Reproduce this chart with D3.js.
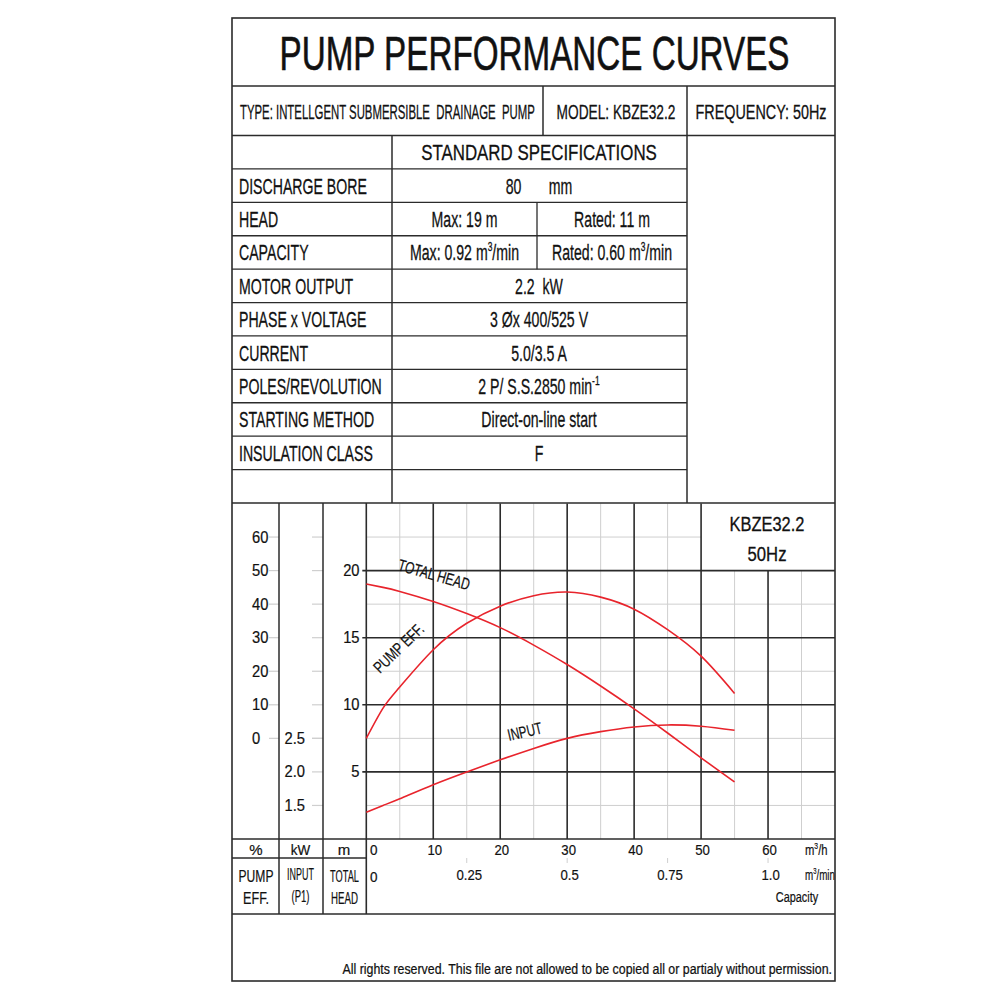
<!DOCTYPE html>
<meta charset="utf-8">
<script src="https://d3js.org/d3.v7.min.js"></script>
<style>
  body { margin: 0; background: #fff; }
  text { font-family: "Liberation Sans Narrow", "Arial Narrow", "Liberation Sans", Arial, sans-serif; fill: #111; white-space: pre; }
</style>
<div id="chart"></div>
<script>
// ---- data ----
const flow      = [0, 2.5, 5, 10, 15, 20, 25, 30, 35, 40, 45, 50, 55];          // m3/h
const totalHead = [19.0, 18.75, 18.45, 17.7, 16.8, 15.75, 14.45, 13.0, 11.4, 9.7, 7.9, 6.05, 4.25]; // m
const pumpEff   = [0, 9.0, 15.3, 26.4, 34.3, 39.4, 42.5, 43.6, 42.1, 38.5, 32.4, 24.5, 13.4];   // %
const inputKw   = [1.40, 1.50, 1.60, 1.81, 2.0, 2.18, 2.35, 2.50, 2.60, 2.67, 2.70, 2.68, 2.62]; // kW

const flowTicks = [0, 10, 20, 30, 40, 50, 60];
const minTicks  = [0.25, 0.5, 0.75, 1.0];
const minLabels = ["0.25", "0.5", "0.75", "1.0"];
const effTicks  = [0, 10, 20, 30, 40, 50, 60];
const kwTicks   = [2.5, 2.0, 1.5];
const headTicks = [5, 10, 15, 20];

const title = "PUMP PERFORMANCE CURVES";
const infoRow = ["TYPE: INTELLGENT SUBMERSIBLE  DRAINAGE  PUMP", "MODEL: KBZE32.2", "FREQUENCY: 50Hz"];
const specHeader = "STANDARD SPECIFICATIONS";
const specLabels = ["DISCHARGE BORE", "HEAD", "CAPACITY", "MOTOR OUTPUT", "PHASE x VOLTAGE",
                    "CURRENT", "POLES/REVOLUTION", "STARTING METHOD", "INSULATION CLASS", ""];
const specValues = [["80       mm"], ["Max: 19 m", "Rated: 11 m"], ["Max: 0.92 m{3}/min", "Rated: 0.60 m{3}/min"],
                    ["2.2  kW"], ["3 Øx 400/525 V"], ["5.0/3.5 A"], ["2 P/ S.S.2850 min{-1}"],
                    ["Direct-on-line start"], ["F"], [""]];
const model = "KBZE32.2", freq = "50Hz";
const footer = "All rights reserved. This file are not allowed to be copied all or partialy without permission.";

// ---- layout ----
const L = 232, R = 835, T = 18, B = 981;
const titleBot = 86, infoBot = 135.5, specBot = 503, nRows = 11;
const colLab = 392, colVal = 687, colSplit = 537;
const c1 = 279, c2 = 323, c3 = 366.3;
const plotTop = 503.5, plotBot = 839, unitBot = 858, nameBot = 914;
const ink = "#2b2b2b", red = "#e8242c", grid = "#cfcfcf";

const svg = d3.select("#chart").append("svg")
    .attr("width", 1000).attr("height", 1000);

// scales
const x = d3.scaleLinear().domain([0, 70]).range([c3, R]);
const yH = d3.scaleLinear().domain([0, 25]).range([plotBot, plotTop]);
const yE = d3.scaleLinear().domain([0, 60]).range([yH(7.5), yH(22.5)]);
const yK = d3.scaleLinear().domain([1.5, 2.5]).range([yH(2.5), yH(7.5)]);

function line(x1, y1, x2, y2, color, w) {
    svg.append("line").attr("x1", x1).attr("y1", y1).attr("x2", x2).attr("y2", y2)
        .attr("stroke", color || ink).attr("stroke-width", w || 1.5);
}

// text helper: "{..}" parts become superscripts; w squeezes the text to a width
function put(str, px, py, size, o) {
    o = o || {};
    const t = svg.append("text").attr("font-size", size)
        .attr("text-anchor", o.anchor || "start");
    let raised = false;
    str.split(/\{([^}]*)\}/).forEach(function (s, i) {
        if (!s) return;
        const sp = t.append("tspan").text(s);
        if (i % 2) {
            sp.attr("dy", -size * 0.4).attr("font-size", size * 0.6);
            raised = true;
        } else if (raised) {
            sp.attr("dy", size * 0.4);
            raised = false;
        }
    });
    let sx = o.sx || 1;
    if (o.w) sx = o.w / t.node().getBBox().width;
    t.attr("transform", `translate(${px},${py}) rotate(${o.rot || 0}) scale(${sx},1)`);
    if (o.bold) t.attr("stroke", "#111").attr("stroke-width", o.bold);
    return sx;
}

// ---- header tables ----
put(title, (L + R) / 2 + 1, 70, 48, { anchor: "middle", w: 510, bold: 0.6 });
line(L, titleBot, R, titleBot);
put(infoRow[0], 240, 119, 21, { w: 295, bold: 0.3 });
put(infoRow[1], 616, 119, 21, { anchor: "middle", w: 119, bold: 0.3 });
put(infoRow[2], 761, 119, 21, { anchor: "middle", w: 131, bold: 0.3 });
line(543, titleBot, 543, infoBot);
line(colVal, titleBot, colVal, specBot);
line(L, infoBot, R, infoBot);

const rowH = (specBot - infoBot) / nRows;
const rowMid = i => infoBot + rowH * (i + 0.5);
put(specHeader, 539, rowMid(0) + 8, 22.5, { anchor: "middle", w: 236, bold: 0.3 });
line(colLab, infoBot, colLab, specBot);
const sq = put(specLabels[0], 239, rowMid(1) + 8, 22.5, { w: 128, bold: 0.3 });
specLabels.forEach(function (lab, i) {
    const yb = rowMid(i + 1) + 8;
    line(L, infoBot + rowH * (i + 1), colVal, infoBot + rowH * (i + 1), ink, 1.3);
    if (i > 0 && lab) put(lab, 239, yb, 22.5, { sx: sq, bold: 0.3 });
    const vals = specValues[i];
    if (vals.length === 2) {
        put(vals[0], (colLab + colSplit) / 2, yb, 22.5, { anchor: "middle", sx: sq, bold: 0.3 });
        put(vals[1], (colSplit + colVal) / 2, yb, 22.5, { anchor: "middle", sx: sq, bold: 0.3 });
    } else if (vals[0]) {
        put(vals[0], 539, yb, 22.5, { anchor: "middle", sx: sq, bold: 0.3 });
    }
});
line(colSplit, infoBot + rowH * 2, colSplit, infoBot + rowH * 4, ink, 1.3);

// ---- chart grid ----
const g = svg.append("g");
d3.range(5, 70, 10).forEach(function (v) {
    g.append("line").attr("x1", x(v)).attr("x2", x(v))
        .attr("y1", v > 50 ? yH(20) : plotTop).attr("y2", plotBot)
        .attr("stroke", grid).attr("stroke-width", 1);
});
[2.5, 7.5, 12.5, 17.5, 22.5].forEach(function (v) {
    g.append("line").attr("x1", x(0)).attr("x2", v > 20 ? x(50) : R)
        .attr("y1", yH(v)).attr("y2", yH(v))
        .attr("stroke", grid).attr("stroke-width", 1);
});
// short tick lines in the left columns
effTicks.forEach(function (v) {
    g.append("line").attr("x1", 269).attr("x2", c1).attr("y1", yE(v)).attr("y2", yE(v))
        .attr("stroke", grid).attr("stroke-width", 1.2);
    g.append("line").attr("x1", 312).attr("x2", c2).attr("y1", yE(v)).attr("y2", yE(v))
        .attr("stroke", grid).attr("stroke-width", 1.2);
});
kwTicks.forEach(function (v) {
    g.append("line").attr("x1", 312).attr("x2", c2).attr("y1", yK(v)).attr("y2", yK(v))
        .attr("stroke", grid).attr("stroke-width", 1.2);
});
minTicks.forEach(function (v) {
    g.append("line").attr("x1", x(v * 60)).attr("x2", x(v * 60)).attr("y1", unitBot).attr("y2", unitBot + 5)
        .attr("stroke", grid).attr("stroke-width", 1);
});

flowTicks.slice(1).forEach(function (v) {
    line(x(v), v > 50 ? yH(20) : plotTop, x(v), plotBot, ink, 1.6);
});
headTicks.forEach(function (v) {
    line(c3 - 4, yH(v), R, yH(v), ink, 1.6);
});

// column borders of the chart block
line(L, specBot, R, specBot);
line(c1, specBot, c1, nameBot);
line(c2, specBot, c2, nameBot);
line(c3, specBot, c3, nameBot, ink, 1.6);
line(L, plotBot, R, plotBot, ink, 1.6);
line(L, unitBot, c3, unitBot);
line(L, nameBot, R, nameBot);

// ---- curves ----
const curve = d3.line().curve(d3.curveNatural);
svg.append("path").attr("d", curve(flow.map((f, i) => [x(f), yH(totalHead[i])])))
    .attr("fill", "none").attr("stroke", red).attr("stroke-width", 1.6);
svg.append("path").attr("d", curve(flow.map((f, i) => [x(f), yE(pumpEff[i])])))
    .attr("fill", "none").attr("stroke", red).attr("stroke-width", 1.6);
svg.append("path").attr("d", curve(flow.map((f, i) => [x(f), yK(inputKw[i])])))
    .attr("fill", "none").attr("stroke", red).attr("stroke-width", 1.6);

put("TOTAL HEAD", 397, 570, 16.5, { rot: 16, w: 74, bold: 0.2 });
put("PUMP EFF.", 380, 674, 16.5, { rot: -44, w: 63, bold: 0.2 });
put("INPUT", 509, 741, 16.5, { rot: -13, w: 35, bold: 0.2 });

// model box
put(model, 767, 531, 21, { anchor: "middle", w: 75, bold: 0.3 });
put(freq, 767, 561, 21, { anchor: "middle", w: 39, bold: 0.3 });

// ---- axis labels ----
effTicks.forEach(v => put(String(v), 252, yE(v) + 5.5, 16, { sx: 0.92, bold: 0.2 }));
kwTicks.forEach(v => put(d3.format(".1f")(v), 284.5, yK(v) + 5.5, 16, { sx: 0.92, bold: 0.2 }));
headTicks.forEach(v => put(String(v), 359.5, yH(v) + 5.5, 16, { anchor: "end", sx: 0.92, bold: 0.2 }));

flowTicks.forEach(function (v) {
    if (v === 0) put("0", 370, 855, 15, { sx: 0.9, bold: 0.2 });
    else put(String(v), x(v) + 1.5, 855, 15.5, { anchor: "middle", sx: 0.85, bold: 0.2 });
});
put("m{3}/h", 805, 855, 15, { sx: 0.75, bold: 0.2 });
put("0", 370, 881.5, 15, { sx: 0.9, bold: 0.2 });
minTicks.forEach((v, i) => put(minLabels[i], x(v * 60) + 2.5, 880, 15.5, { anchor: "middle", sx: 0.85, bold: 0.2 }));
put("m{3}/min", 805, 880, 15, { w: 30, bold: 0.2 });
put("Capacity", 797, 902, 14.5, { anchor: "middle", w: 43, bold: 0.2 });

put("%", 256, 855, 15, { anchor: "middle", bold: 0.2 });
put("kW", 300.5, 855, 15, { anchor: "middle", sx: 0.9, bold: 0.2 });
put("m", 344, 855, 15, { anchor: "middle", bold: 0.2 });
put("PUMP", 256, 882, 16, { anchor: "middle", w: 35, bold: 0.2 });
put("EFF.", 256, 904, 16, { anchor: "middle", w: 26, bold: 0.2 });
put("INPUT", 300.5, 880, 16, { anchor: "middle", w: 27, bold: 0.2 });
put("(P1)", 300.5, 902, 16, { anchor: "middle", w: 18, bold: 0.2 });
put("TOTAL", 344.5, 882, 16, { anchor: "middle", w: 29, bold: 0.2 });
put("HEAD", 344.5, 904, 16, { anchor: "middle", w: 27, bold: 0.2 });

put(footer, 832, 974, 15.5, { anchor: "end", w: 490, bold: 0.25 });

// outer frame
svg.append("rect").attr("x", L).attr("y", T).attr("width", R - L).attr("height", B - T)
    .attr("fill", "none").attr("stroke", ink).attr("stroke-width", 1.6);
</script>
